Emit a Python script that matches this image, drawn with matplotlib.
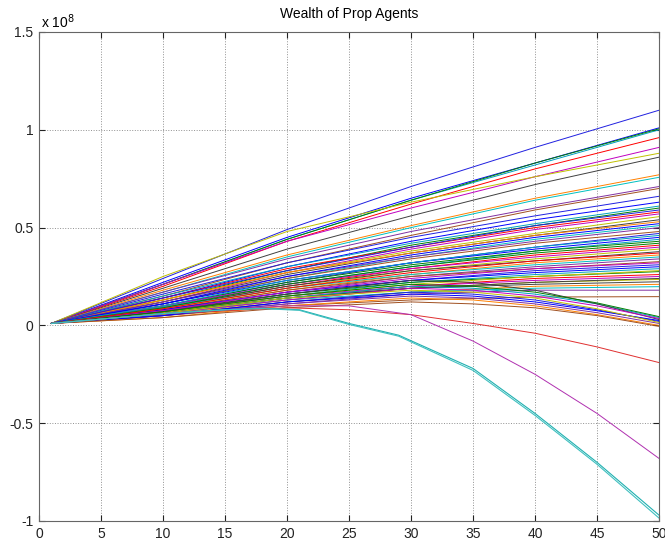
import matplotlib
matplotlib.use('Agg')
import matplotlib.pyplot as plt

# wealth of each agent (units of 1e8), sampled at these periods
xs = [1, 10, 20, 30, 40, 50]

# agents whose wealth keeps rising
rising = [
    [0.01, 0.24, 0.49, 0.71, 0.91, 1.10],
    [0.01, 0.22, 0.45, 0.65, 0.83, 1.01],
    [0.01, 0.21, 0.44, 0.64, 0.82, 1.00],
    [0.01, 0.21, 0.44, 0.64, 0.83, 1.005],
    [0.01, 0.20, 0.43, 0.62, 0.80, 0.96],
    [0.01, 0.21, 0.43, 0.60, 0.76, 0.91],
    [0.01, 0.25, 0.48, 0.63, 0.76, 0.88],
    [0.01, 0.19, 0.39, 0.56, 0.72, 0.86],
    [0.01, 0.18, 0.36, 0.51, 0.65, 0.77],
    [0.01, 0.17, 0.35, 0.50, 0.64, 0.757],
    [0.01, 0.17, 0.34, 0.48, 0.60, 0.71],
    [0.01, 0.15, 0.32, 0.46, 0.59, 0.70],
    [0.01, 0.16, 0.32, 0.45, 0.56, 0.66],
    [0.01, 0.14, 0.30, 0.43, 0.54, 0.63],
    [0.01, 0.15, 0.30, 0.42, 0.52, 0.61],
    [0.01, 0.13, 0.28, 0.41, 0.51, 0.60],
    [0.01, 0.14, 0.29, 0.40, 0.50, 0.58],
    [0.01, 0.12, 0.27, 0.39, 0.49, 0.57],
    [0.01, 0.13, 0.27, 0.38, 0.47, 0.556],
    [0.01, 0.12, 0.26, 0.37, 0.46, 0.54],
    [0.01, 0.13, 0.27, 0.37, 0.46, 0.53],
    [0.01, 0.11, 0.24, 0.35, 0.44, 0.51],
    [0.01, 0.12, 0.25, 0.35, 0.43, 0.50],
    [0.01, 0.11, 0.24, 0.34, 0.42, 0.48],
    [0.01, 0.10, 0.22, 0.32, 0.40, 0.47],
    [0.01, 0.11, 0.23, 0.32, 0.39, 0.45],
    [0.01, 0.095, 0.21, 0.30, 0.38, 0.44],
    [0.01, 0.10, 0.22, 0.31, 0.38, 0.43],
    [0.01, 0.09, 0.20, 0.29, 0.36, 0.41],
    [0.01, 0.10, 0.21, 0.29, 0.35, 0.40],
    [0.01, 0.085, 0.19, 0.28, 0.34, 0.39],
    [0.01, 0.09, 0.20, 0.28, 0.33, 0.377],
    [0.01, 0.08, 0.18, 0.26, 0.32, 0.36],
    [0.01, 0.09, 0.19, 0.26, 0.31, 0.35],
    [0.01, 0.075, 0.17, 0.25, 0.30, 0.34],
    [0.01, 0.08, 0.18, 0.25, 0.29, 0.326],
    [0.01, 0.07, 0.16, 0.23, 0.28, 0.31],
    [0.01, 0.08, 0.17, 0.23, 0.27, 0.30],
    [0.01, 0.065, 0.15, 0.22, 0.26, 0.29],
    [0.01, 0.075, 0.16, 0.22, 0.25, 0.275],
    [0.01, 0.065, 0.14, 0.20, 0.24, 0.26],
    [0.01, 0.075, 0.15, 0.20, 0.23, 0.25],
    [0.01, 0.055, 0.13, 0.19, 0.22, 0.235],
    [0.01, 0.065, 0.14, 0.19, 0.21, 0.223],
    [0.01, 0.055, 0.12, 0.17, 0.20, 0.21],
    [0.01, 0.06, 0.13, 0.17, 0.19, 0.198],
    [0.01, 0.05, 0.11, 0.16, 0.18, 0.18],
    [0.01, 0.05, 0.10, 0.13, 0.145, 0.147],
    [0.01, 0.14, 0.28, 0.40, 0.51, 0.59],
    [0.01, 0.11, 0.25, 0.36, 0.45, 0.52],
    [0.01, 0.10, 0.23, 0.32, 0.40, 0.46],
    [0.01, 0.09, 0.21, 0.30, 0.37, 0.42],
    [0.01, 0.085, 0.19, 0.27, 0.33, 0.37],
    [0.01, 0.075, 0.17, 0.24, 0.29, 0.32],
    [0.01, 0.065, 0.15, 0.21, 0.25, 0.28],
    [0.01, 0.06, 0.14, 0.19, 0.22, 0.24],
]

# agents that peak around period 30 and fall back to about zero
fall_x = [1, 10, 20, 30, 35, 40, 45, 50]
falling = [
    [0.01, 0.06, 0.14, 0.20, 0.19, 0.16, 0.11, 0.04],
    [0.01, 0.07, 0.16, 0.23, 0.22, 0.18, 0.11, 0.03],
    [0.01, 0.05, 0.12, 0.17, 0.16, 0.13, 0.08, 0.02],
    [0.01, 0.06, 0.13, 0.19, 0.18, 0.15, 0.10, 0.035],
    [0.01, 0.05, 0.11, 0.15, 0.14, 0.11, 0.065, 0.01],
    [0.01, 0.07, 0.15, 0.21, 0.20, 0.17, 0.115, 0.045],
    [0.01, 0.04, 0.10, 0.14, 0.13, 0.10, 0.055, 0.00],
    [0.01, 0.05, 0.12, 0.16, 0.15, 0.12, 0.075, 0.025],
    [0.01, 0.06, 0.14, 0.18, 0.17, 0.14, 0.085, 0.015],
    [0.01, 0.04, 0.09, 0.12, 0.11, 0.09, 0.05, -0.005],
]

# agents that go negative
red_x = [1, 10, 20, 25, 30, 35, 40, 45, 50]
red_y = [0.01, 0.06, 0.09, 0.08, 0.055, 0.01, -0.04, -0.11, -0.19]
mag_x = [1, 10, 20, 25, 30, 35, 40, 45, 50]
mag_y = [0.01, 0.06, 0.10, 0.10, 0.055, -0.08, -0.25, -0.45, -0.68]
cyan_x = [1, 10, 15, 18, 21, 25, 29, 35, 40, 45, 50]
cyan_a = [0.01, 0.06, 0.08, 0.088, 0.08, 0.01, -0.05, -0.22, -0.45, -0.70, -0.97]
cyan_b = [0.01, 0.06, 0.08, 0.086, 0.077, 0.005, -0.055, -0.23, -0.46, -0.71, -0.985]

colors = ['#2020e0', '#0000ff', '#00a0c0', '#008000', '#ff0000', '#c000c0',
          '#c0c000', '#404040', '#ff8000', '#00c0c0', '#8030a0', '#a05020']

plt.rcParams['font.family'] = ['Liberation Sans', 'DejaVu Sans']
plt.rcParams['font.size'] = 10

fig = plt.figure(figsize=(6.65, 5.41), dpi=100)
ax = fig.add_axes([39 / 665, 20 / 541, 620 / 665, 489 / 541])

for i, row in enumerate(rising):
    ax.plot(xs, row, color=colors[i % len(colors)], lw=0.7)
for i, row in enumerate(falling):
    ax.plot(fall_x, row, color=colors[(i * 5 + 2) % len(colors)], lw=0.7)
ax.plot(red_x, red_y, color='#e03030', lw=0.7)
ax.plot(mag_x, mag_y, color='#b030b0', lw=0.7)
ax.plot(cyan_x, cyan_a, color='#20b0b0', lw=0.8)
ax.plot(cyan_x, cyan_b, color='#40c0c0', lw=0.8)

ax.set_xlim(0, 50)
ax.set_ylim(-1, 1.5)
ax.set_xticks(range(0, 51, 5))
ax.set_yticks([-1, -0.5, 0, 0.5, 1, 1.5])
ax.set_yticklabels(['-1', '-0.5', '0', '0.5', '1', '1.5'])
ax.grid(True, linestyle=':', color='#909090', lw=0.7)
ax.tick_params(direction='in', top=True, right=True, length=4, pad=4, colors='#222222')
for s in ax.spines.values():
    s.set_color('#666666')
    s.set_linewidth(0.8)

ax.set_title('Wealth of Prop Agents', fontsize=10, pad=10)
fig.text(41 / 665, 1 - 31 / 541, r'x 10$^8$', fontsize=10, va='bottom', ha='left')

fig.savefig('out.png', dpi=100)
